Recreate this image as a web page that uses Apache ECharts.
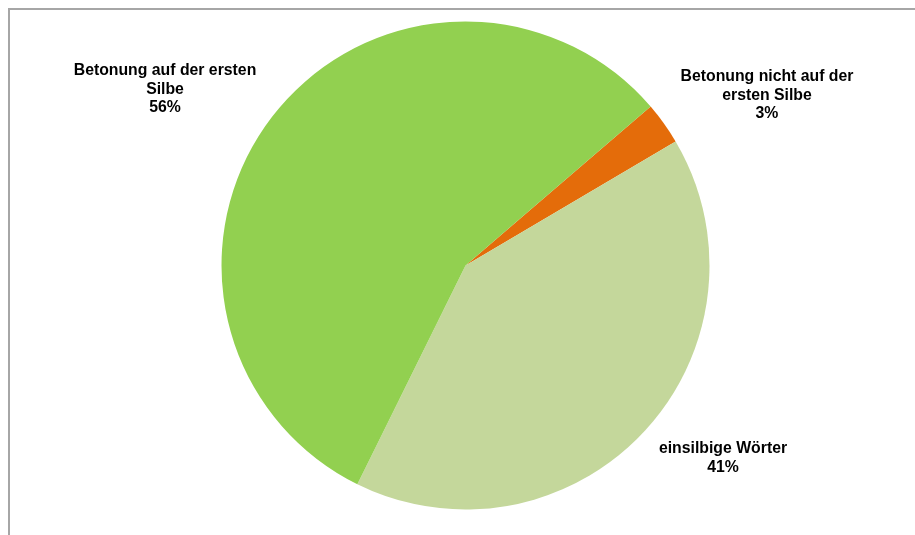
<!DOCTYPE html>
<html>
<head>
<meta charset="utf-8">
<script src="https://cdn.jsdelivr.net/npm/echarts@6/dist/echarts.min.js"></script>
<style>
html,body{margin:0;padding:0;background:#fff;}
#chart{width:915px;height:535px;}
</style>
</head>
<body>
<div id="chart"></div>
<script>
const categories = ['Betonung nicht auf der\nersten Silbe', 'einsilbige Wörter', 'Betonung auf der ersten\nSilbe'];
const values = [2.8, 40.8, 56.4];
const colors = ['#e46c0a', '#c4d79b', '#92d050'];

const labelPos = [
  {x: 767, y: 67.5},
  {x: 723, y: 439.5},
  {x: 165, y: 61.5}
];

const chart = echarts.init(document.getElementById('chart'));
chart.setOption({
  animation: false,
  graphic: [{
    type: 'rect',
    shape: {x: 9, y: 9, width: 1000, height: 1000},
    style: {fill: 'none', stroke: '#a6a6a6', lineWidth: 2},
    silent: true
  }],
  series: [{
    type: 'pie',
    center: [465.5, 265.5],
    radius: 244,
    startAngle: 40.65,
    clockwise: true,
    percentPrecision: 0,
    data: categories.map((c, i) => ({name: c, value: values[i], itemStyle: {color: colors[i]}})),
    label: {
      show: true,
      position: 'outside',
      formatter: '{b}\n{d}%',
      fontFamily: 'Liberation Sans, Arial, sans-serif',
      fontWeight: 'bold',
      fontSize: 15.8,
      lineHeight: 18.5,
      color: '#000',
      align: 'center'
    },
    labelLine: {show: false},
    labelLayout: function (p) {
      const pos = labelPos[p.dataIndex];
      return {x: pos.x, y: pos.y, align: 'center', verticalAlign: 'top'};
    },
    emphasis: {disabled: true}
  }]
});
</script>
</body>
</html>
